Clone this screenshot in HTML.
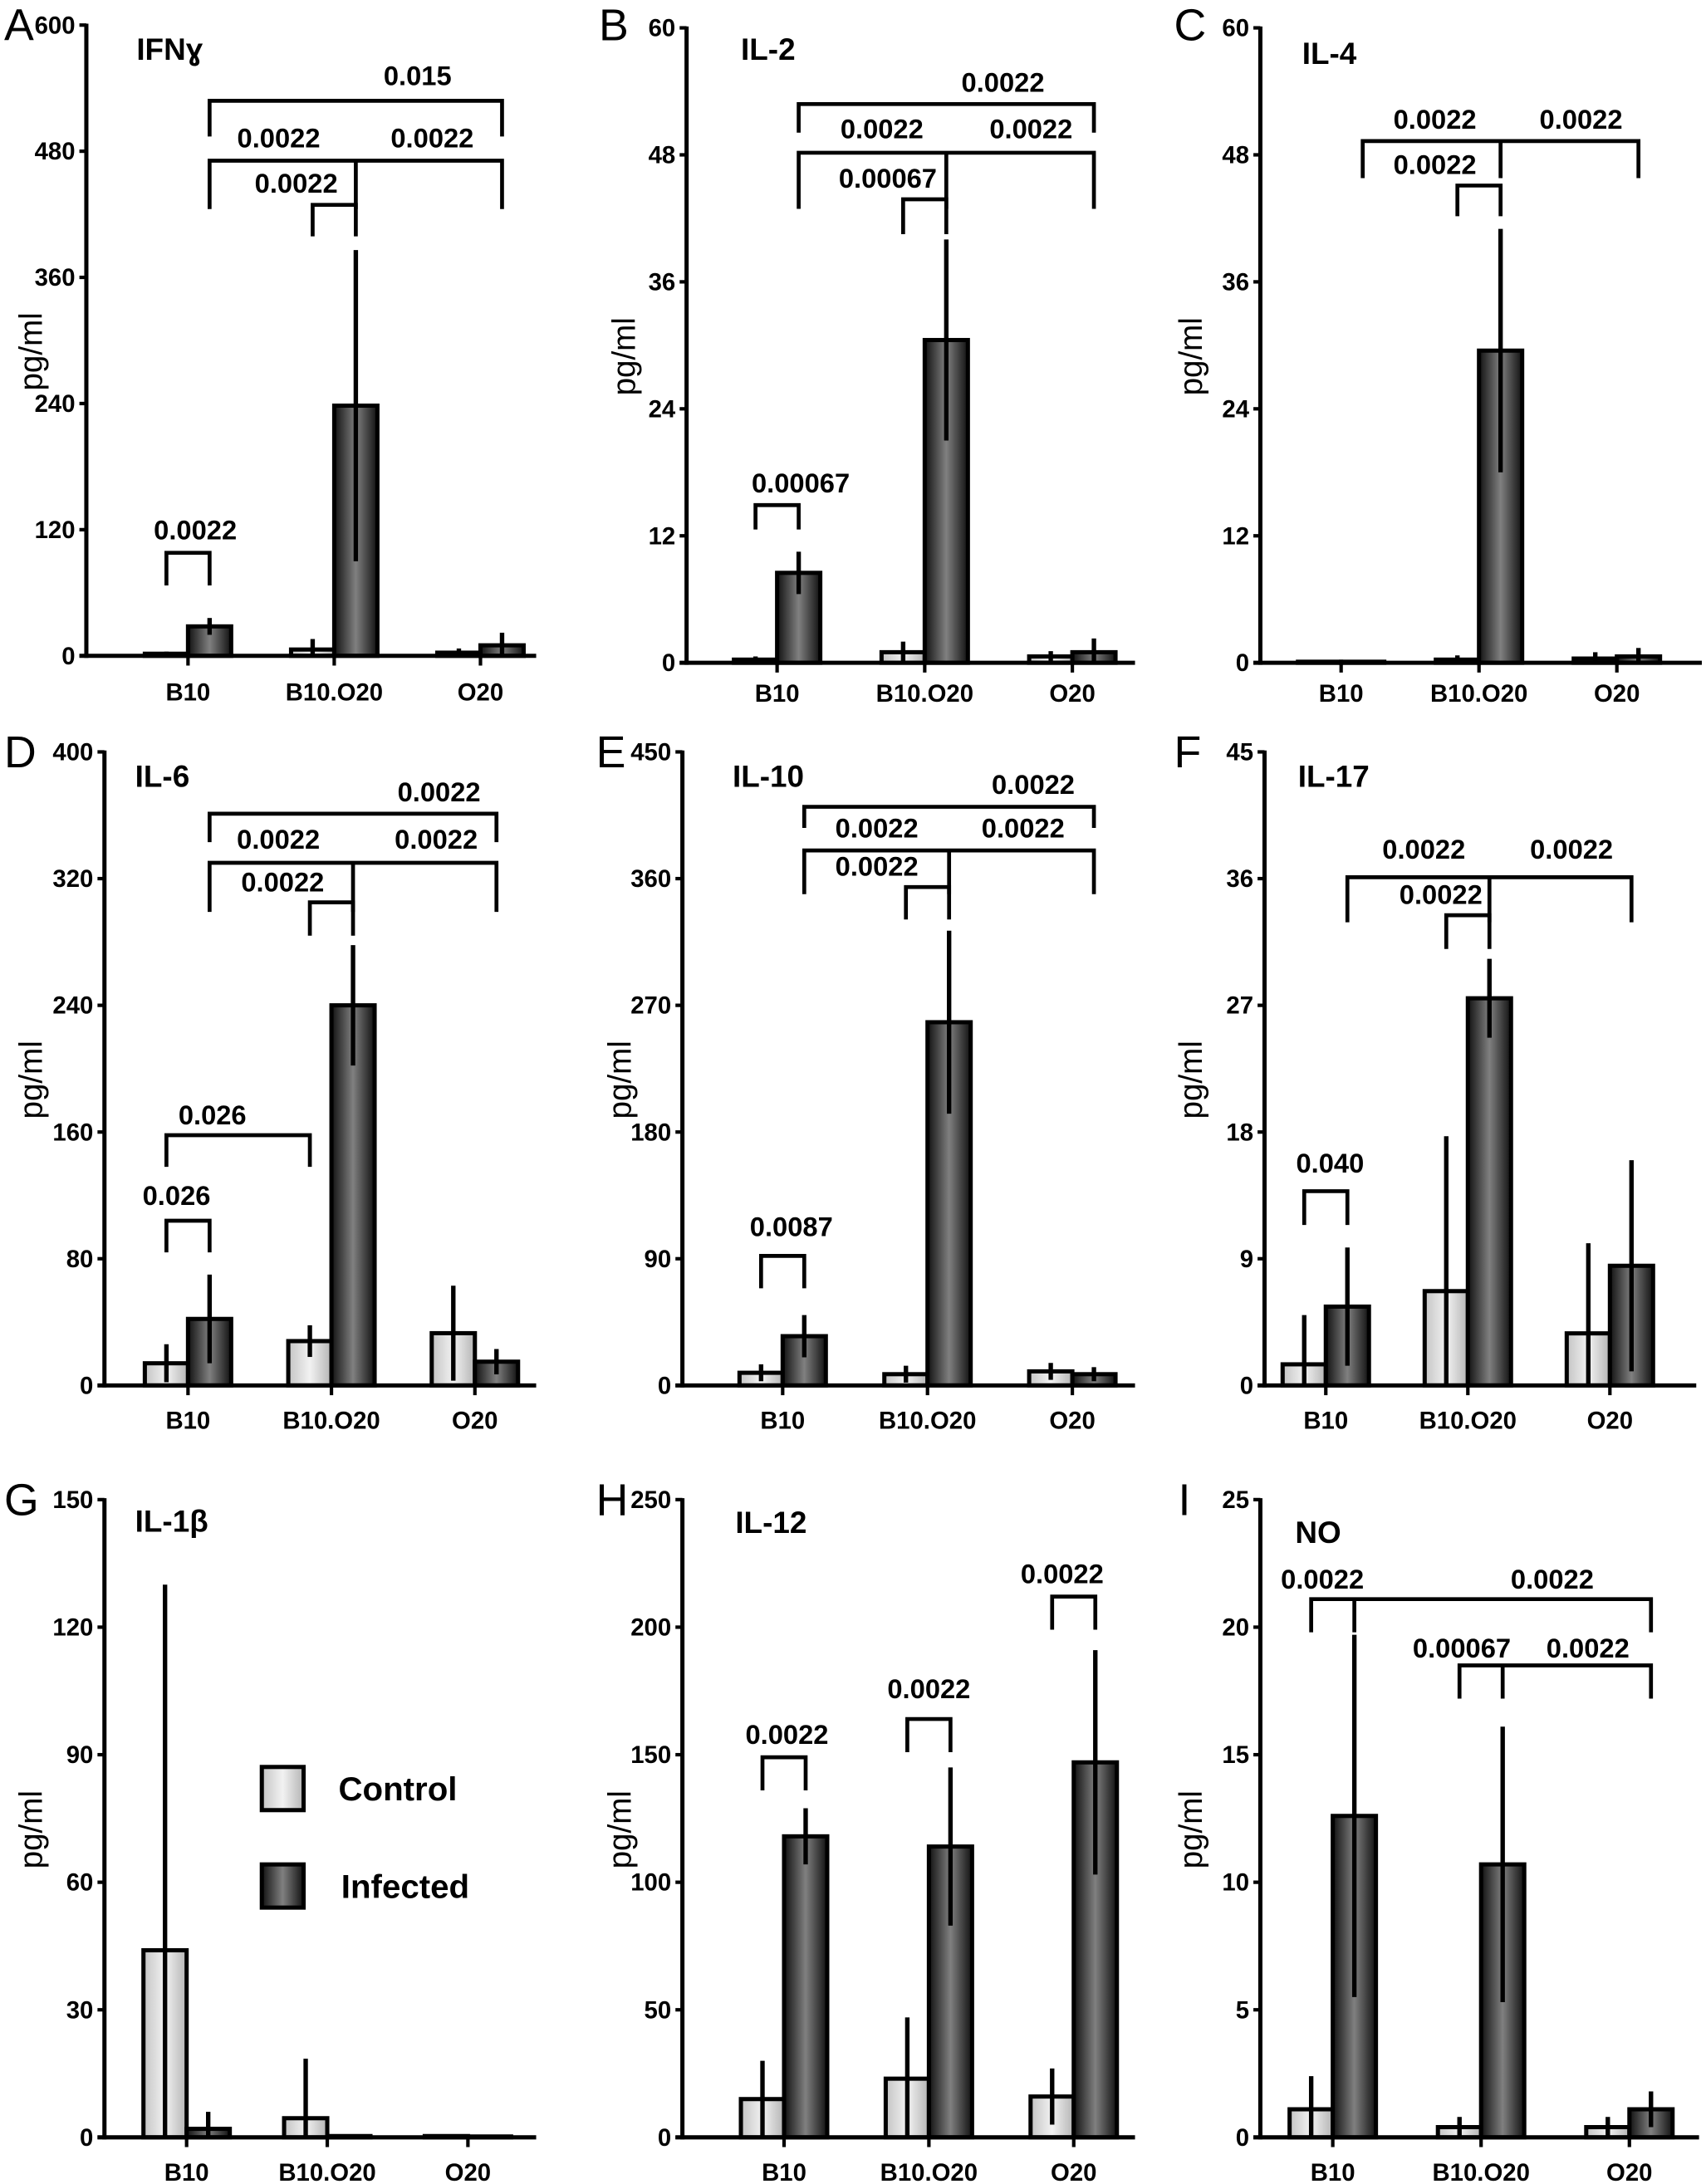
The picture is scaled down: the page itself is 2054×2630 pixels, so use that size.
<!DOCTYPE html>
<html><head><meta charset="utf-8"><style>
html,body{margin:0;padding:0;background:#fff;}
svg{display:block;}
text{font-family:"Liberation Sans",Arial,sans-serif;fill:#000;}
</style></head><body>
<svg id="fig" width="2054" height="2630" viewBox="0 0 1225 1568.5" xmlns="http://www.w3.org/2000/svg">
<defs>
<linearGradient id="gCtrl" x1="0" x2="1" y1="0" y2="0"><stop offset="0" stop-color="#c4c4c4"/><stop offset="0.5" stop-color="#f2f2f2"/><stop offset="1" stop-color="#b4b4b4"/></linearGradient>
<linearGradient id="gInf" x1="0" x2="1" y1="0" y2="0"><stop offset="0" stop-color="#111"/><stop offset="0.5" stop-color="#808080"/><stop offset="1" stop-color="#111"/></linearGradient>
</defs>
</svg>
<script>
const categories = ['B10','B10.O20','O20'];

const ifngControl = [2,6,3], ifngControlErr = [2,10,4];
const ifngInfected = [28,238,10], ifngInfectedErr = [8,148,12];
const ifngTicks = [0,120,240,360,480,600];
const ifngBrackets = [{from:0,to:1,mid:-1,top:98,bot:67},{from:2,to:3,mid:-1,top:429,bot:399},{from:1,to:5,mid:3,top:471,bot:425},{from:1,to:5,mid:-1,top:528,bot:494}];
const ifngPLabels = [['0.0022',0.05,120],['0.0022',0.74,450],['0.0022',0.62,493],['0.0022',1.67,493],['0.015',1.57,552]];

const il2Control = [0.3,1,0.6], il2ControlErr = [0.3,1,0.5];
const il2Infected = [8.5,30.5,1], il2InfectedErr = [2,9.5,1.3];
const il2Ticks = [0,12,24,36,48,60];
const il2Brackets = [{from:0,to:1,mid:-1,top:14.9,bot:12.6},{from:2,to:3,mid:-1,top:43.8,bot:40.5},{from:1,to:5,mid:3,top:48.2,bot:42.9},{from:1,to:5,mid:-1,top:52.8,bot:50.1}];
const il2PLabels = [['0.00067',0.16,17],['0.00067',0.75,45.8],['0.0022',0.71,50.5],['0.0022',1.72,50.5],['0.0022',1.53,54.9]];

const il4Control = [0.1,0.3,0.4], il4ControlErr = [0.1,0.4,0.6];
const il4Infected = [0.1,29.5,0.6], il4InfectedErr = [0.1,11.5,0.8];
const il4Ticks = [0,12,24,36,48,60];
const il4Brackets = [{from:2,to:3,mid:-1,top:45.1,bot:42.2},{from:1,to:5,mid:3,top:49.3,bot:45.8}];
const il4PLabels = [['0.0022',0.68,47.1],['0.0022',0.68,51.4],['0.0022',1.74,51.4]];

const il6Control = [14,28,33], il6ControlErr = [12,10,30];
const il6Infected = [42,240,15], il6InfectedErr = [28,38,8];
const il6Ticks = [0,80,160,240,320,400];
const il6Brackets = [{from:0,to:1,mid:-1,top:104,bot:84},{from:0,to:2,mid:-1,top:158,bot:138},{from:2,to:3,mid:-1,top:305,bot:284},{from:1,to:5,mid:3,top:330,bot:299},{from:1,to:5,mid:-1,top:361,bot:343}];
const il6PLabels = [['0.026',-0.08,120],['0.026',0.17,171],['0.0022',0.66,318],['0.0022',0.63,345],['0.0022',1.73,345],['0.0022',1.75,375]];

const il10Control = [9,8,10], il10ControlErr = [6,6,6];
const il10Infected = [35,258,8], il10InfectedErr = [15,65,5];
const il10Ticks = [0,90,180,270,360,450];
const il10Brackets = [{from:0,to:1,mid:-1,top:92,bot:69},{from:2,to:3,mid:-1,top:354,bot:331},{from:1,to:5,mid:3,top:380,bot:349},{from:1,to:5,mid:-1,top:411,bot:396}];
const il10PLabels = [['0.0087',0.06,113],['0.0022',0.65,369],['0.0022',0.65,396],['0.0022',1.66,396],['0.0022',1.73,427]];

const il17Control = [1.5,6.7,3.7], il17ControlErr = [3.5,11,6.4];
const il17Infected = [5.6,27.5,8.5], il17InfectedErr = [4.2,2.8,7.5];
const il17Ticks = [0,9,18,27,36,45];
const il17Brackets = [{from:0,to:1,mid:-1,top:13.8,bot:11.4},{from:2,to:3,mid:-1,top:33.4,bot:31.0},{from:1,to:5,mid:3,top:36.1,bot:32.9}];
const il17PLabels = [['0.040',0.03,15.8],['0.0022',0.81,34.9],['0.0022',0.69,38.1],['0.0022',1.73,38.1]];

const il1bControl = [44,4.5,0.3], il1bControlErr = [86,14,0.3];
const il1bInfected = [2,0.3,0.2], il1bInfectedErr = [4,0.3,0.2];
const il1bTicks = [0,30,60,90,120,150];
const il1bBrackets = [];
const il1bPLabels = [];

const il12Control = [15,23,16], il12ControlErr = [15,24,11];
const il12Infected = [118,114,147], il12InfectedErr = [11,31,44];
const il12Ticks = [0,50,100,150,200,250];
const il12Brackets = [{from:0,to:1,mid:-1,top:149,bot:136},{from:2,to:3,mid:-1,top:164,bot:151},{from:4,to:5,mid:-1,top:212,bot:199}];
const il12PLabels = [['0.0022',0.02,158],['0.0022',1.0,176],['0.0022',1.92,221]];

const noControl = [1.1,0.4,0.4], noControlErr = [1.3,0.4,0.4];
const noInfected = [12.6,10.7,1.1], noInfectedErr = [7.1,5.4,0.7];
const noTicks = [0,5,10,15,20,25];
const noBrackets = [{from:0,to:5,mid:1,top:21.1,bot:19.8},{from:2,to:5,mid:3,top:18.5,bot:17.2}];
const noPLabels = [['0.0022',-0.07,21.9],['0.0022',1.48,21.9],['0.00067',0.87,19.2],['0.0022',1.72,19.2]];

const panels = [
 {id:'a',letter:'A',title:'IFNɣ',ctrl:ifngControl,ce:ifngControlErr,inf:ifngInfected,ie:ifngInfectedErr,ticks:ifngTicks,br:ifngBrackets,pl:ifngPLabels,L:{ax:62,y0:471,yt:18,xe:385,off:73,sp:105,lx:3,ly:18,tx:98,ty:35,px:22,cy:497}},
 {id:'b',letter:'B',title:'IL-2',ctrl:il2Control,ce:il2ControlErr,inf:il2Infected,ie:il2InfectedErr,ticks:il2Ticks,br:il2Brackets,pl:il2PLabels,L:{ax:493,y0:476,yt:20,xe:815,off:65,sp:106,lx:430,ly:18,tx:532,ty:35,px:448,cy:498}},
 {id:'c',letter:'C',title:'IL-4',ctrl:il4Control,ce:il4ControlErr,inf:il4Infected,ie:il4InfectedErr,ticks:il4Ticks,br:il4Brackets,pl:il4PLabels,L:{ax:905,y0:476,yt:20,xe:1222,off:58,sp:99,lx:843,ly:18,tx:935,ty:38,px:855,cy:498}},
 {id:'d',letter:'D',title:'IL-6',ctrl:il6Control,ce:il6ControlErr,inf:il6Infected,ie:il6InfectedErr,ticks:il6Ticks,br:il6Brackets,pl:il6PLabels,L:{ax:75,y0:995,yt:540,xe:385,off:60,sp:103,lx:3,ly:540,tx:97,ty:557,px:22,cy:1020}},
 {id:'e',letter:'E',title:'IL-10',ctrl:il10Control,ce:il10ControlErr,inf:il10Infected,ie:il10InfectedErr,ticks:il10Ticks,br:il10Brackets,pl:il10PLabels,L:{ax:490,y0:995,yt:540,xe:815,off:72,sp:104,lx:428,ly:540,tx:526,ty:557,px:445,cy:1020}},
 {id:'f',letter:'F',title:'IL-17',ctrl:il17Control,ce:il17ControlErr,inf:il17Infected,ie:il17InfectedErr,ticks:il17Ticks,br:il17Brackets,pl:il17PLabels,L:{ax:908,y0:995,yt:540,xe:1218,off:44,sp:102,lx:843,ly:540,tx:932,ty:557,px:855,cy:1020}},
 {id:'g',letter:'G',title:'IL-1β',ctrl:il1bControl,ce:il1bControlErr,inf:il1bInfected,ie:il1bInfectedErr,ticks:il1bTicks,br:il1bBrackets,pl:il1bPLabels,L:{ax:75,y0:1535,yt:1077,xe:385,off:59,sp:101,lx:3,ly:1077,tx:97,ty:1092,px:22,cy:1560}},
 {id:'h',letter:'H',title:'IL-12',ctrl:il12Control,ce:il12ControlErr,inf:il12Infected,ie:il12InfectedErr,ticks:il12Ticks,br:il12Brackets,pl:il12PLabels,L:{ax:490,y0:1535,yt:1077,xe:815,off:73,sp:104,lx:428,ly:1077,tx:528,ty:1093,px:445,cy:1560}},
 {id:'i',letter:'I',title:'NO',ctrl:noControl,ce:noControlErr,inf:noInfected,ie:noInfectedErr,ticks:noTicks,br:noBrackets,pl:noPLabels,L:{ax:905,y0:1535,yt:1077,xe:1220,off:52,sp:106.5,lx:846,ly:1077,tx:930,ty:1100,px:855,cy:1560}}
];

const NS='http://www.w3.org/2000/svg';
const svg=document.getElementById('fig');
function mk(tag,attrs,parent,txt){const e=document.createElementNS(NS,tag);for(const k in attrs)e.setAttribute(k,attrs[k]);if(txt!==undefined)e.textContent=txt;parent.appendChild(e);return e;}
const BW=31;

panels.forEach(p=>{
  const L=p.L;
  const max=p.ticks[p.ticks.length-1];
  const y=v=>L.y0-(v/max)*(L.y0-L.yt);
  const cx=c=>L.ax+L.off+c*L.sp;
  const barX=i=>cx(Math.floor(i/2))+(i%2===0?-BW/2:BW/2);
  const g=mk('g',{},svg);
  
  
  const lt=mk('text',{x:L.lx,y:L.ly+11,'font-size':32},g,p.letter);
  
  
  const tt=mk('text',{x:L.tx,y:L.ty+8,'font-size':22,'font-weight':'bold'},g,p.title);
  
  
  const yl=mk('text',{x:L.px,y:(L.y0+L.yt)/2,'font-size':23,'text-anchor':'middle',transform:`rotate(-90 ${L.px+8} ${(L.y0+L.yt)/2})`},g,'pg/ml');
  
  
  for(let c=0;c<3;c++){
    [[p.ctrl,p.ce,'url(#gCtrl)','control',0],[p.inf,p.ie,'url(#gInf)','infected',1]].forEach(s=>{
      const v=s[0][c], x0=cx(c)+(s[4]?0:-BW);
      const r=mk('rect',{x:x0,y:y(v),width:BW,height:L.y0-y(v),fill:s[2],stroke:'#000','stroke-width':3},g);
      
      
    });
  }
  for(let c=0;c<3;c++){
    [[p.ctrl,p.ce,0,'control'],[p.inf,p.ie,1,'infected']].forEach(s=>{
      const v=s[0][c], e=s[1][c], ex=barX(c*2+s[2]);
      const l=mk('line',{x1:ex,x2:ex,y1:y(Math.max(0,v-e)),y2:y(v+e),stroke:'#000','stroke-width':3.2},g);
      
      
    });
  }
  const ya=mk('line',{x1:L.ax,x2:L.ax,y1:L.yt-1,y2:L.y0+1.5,stroke:'#000','stroke-width':3},g);
  
  
  const xa=mk('line',{x1:L.ax-5,x2:L.xe,y1:L.y0,y2:L.y0,stroke:'#000','stroke-width':3},g);
  
  
  p.ticks.forEach(t=>{
    mk('line',{x1:L.ax-5,x2:L.ax,y1:y(t),y2:y(t),stroke:'#000','stroke-width':2.5},g);
    const tl=mk('text',{x:L.ax-8,y:y(t)+6,'font-size':17.5,'font-weight':'bold','text-anchor':'end'},g,String(t));
    
    
  });
  for(let c=0;c<3;c++){
    mk('line',{x1:cx(c),x2:cx(c),y1:L.y0,y2:L.y0+7,stroke:'#000','stroke-width':2.5},g);
    const cl=mk('text',{x:cx(c),y:L.cy+6,'font-size':17.5,'font-weight':'bold','text-anchor':'middle'},g,categories[c]);
    
    
  }
  p.br.forEach((b,k)=>{
    const x1=barX(b.from),x2=barX(b.to),yt=y(b.top),yb=y(b.bot);
    let d=`M${x1},${yb}V${yt}H${x2}V${yb}`;
    if(b.mid>=0){const xm=barX(b.mid);d+=`M${xm},${yt}V${yb}`;}
    const pa=mk('path',{d:d,fill:'none',stroke:'#000','stroke-width':2.8},g);
    
    
  });
  p.pl.forEach(l=>{
    const t=mk('text',{x:cx(l[1]),y:y(l[2])+7,'font-size':19.5,'font-weight':'bold','text-anchor':'middle'},g,l[0]);
    
    
  });
});

const lg=mk('g',{},svg);


const lc=mk('rect',{x:188,y:1269,width:30,height:31,fill:'url(#gCtrl)',stroke:'#000','stroke-width':3},lg);


const lct=mk('text',{x:243,y:1293,'font-size':24,'font-weight':'bold'},lg,'Control');


const li=mk('rect',{x:188,y:1339,width:30,height:31,fill:'url(#gInf)',stroke:'#000','stroke-width':3},lg);


const lit=mk('text',{x:245,y:1363,'font-size':24,'font-weight':'bold'},lg,'Infected');


</script>
</body></html>
